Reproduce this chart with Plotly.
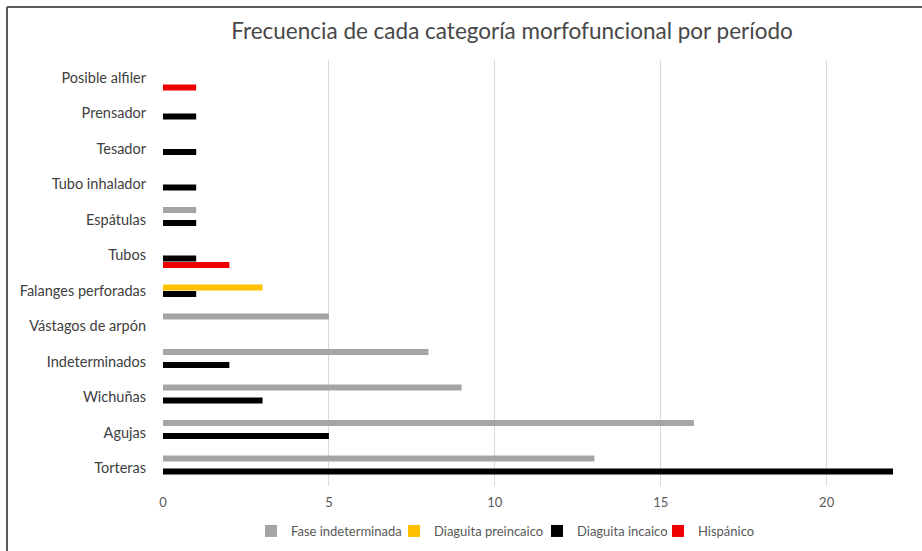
import plotly.graph_objects as go

categories = ["Torteras", "Agujas", "Wichuñas", "Indeterminados", "Vástagos de arpón",
              "Falanges perforadas", "Tubos", "Espátulas", "Tubo inhalador", "Tesador",
              "Prensador", "Posible alfiler"]
fase_indeterminada = [13, 16, 9, 8, 5, 0, 0, 1, 0, 0, 0, 0]
diaguita_preincaico = [0, 0, 0, 0, 0, 3, 0, 0, 0, 0, 0, 0]
diaguita_incaico = [22, 5, 3, 2, 0, 1, 1, 1, 1, 1, 1, 0]
hispanico = [0, 0, 0, 0, 0, 0, 2, 0, 0, 0, 0, 1]

series = [
    ("Fase indeterminada", fase_indeterminada, "#A5A5A5"),
    ("Diaguita preincaico", diaguita_preincaico, "#FFC000"),
    ("Diaguita incaico", diaguita_incaico, "#000000"),
    ("Hispánico", hispanico, "#EE0000"),
]

FONT = "Lato, 'Open Sans', sans-serif"

L, R, T, B = 163, 29, 60, 65
W, H = 922, 551
pw, ph = W - L - R, H - T - B
bx = (7 - L) / pw
ty = 1 + (T - 7) / ph

# legend symbol left positions (pixels), nudged slightly
legend_symbol_x = [265, 408, 551, 672]
legend_names = ["legend", "legend2", "legend3", "legend4"]

fig = go.Figure()
# add in reverse so the first series sits on top within each group
for i in reversed(range(len(series))):
    name, vals, color = series[i]
    fig.add_trace(go.Bar(y=categories, x=vals, name=name, orientation="h",
                         legend=legend_names[i],
                         marker=dict(color=color, line=dict(width=0))))

legend_y = -(531 - (H - B)) / ph
legend_layouts = {}
for i, ln in enumerate(legend_names):
    legend_layouts[ln] = dict(
        orientation="h", itemwidth=30,
        x=(legend_symbol_x[i] - 14 - L) / pw, xanchor="left",
        y=legend_y, yanchor="middle",
        font=dict(size=13, color="#595959"),
        bgcolor="rgba(0,0,0,0)",
    )

fig.update_layout(
    width=W, height=H,
    margin=dict(l=L, r=R, t=T, b=B, autoexpand=False),
    plot_bgcolor="white", paper_bgcolor="white",
    barmode="group", bargap=0.27, bargroupgap=0.05,
    title=dict(text="Frecuencia de cada categoría morfofuncional por período",
               x=(512 - L) / pw, xref="paper", xanchor="center",
               y=1 - 31 / H, yanchor="middle",
               font=dict(family=FONT, size=22.5, color="#474747")),
    font=dict(family=FONT, color="#595959"),
    xaxis=dict(range=[0, 22], tickvals=[0, 5, 10, 15, 20], showgrid=True,
               gridcolor="#D9D9D9", gridwidth=1, zeroline=False, showline=False,
               ticks="", ticklabelstandoff=7, tickfont=dict(size=13, color="#595959")),
    yaxis=dict(categoryorder="array", categoryarray=categories, showgrid=False,
               zeroline=False, showline=False, ticks="", ticklabelstandoff=16,
               tickfont=dict(size=14.5, color="#404040")),
    showlegend=True,
    shapes=[
        dict(type="line", xref="paper", yref="paper", x0=bx, x1=bx, y0=-0.3, y1=ty,
             line=dict(color="#5A5A5A", width=2)),
        dict(type="line", xref="paper", yref="paper", x0=bx, x1=1.2, y0=ty, y1=ty,
             line=dict(color="#5A5A5A", width=2)),
    ],
    **legend_layouts,
)

fig.write_html("out.html", config={"displayModeBar": False},
               post_script="document.body.style.margin='0';")
